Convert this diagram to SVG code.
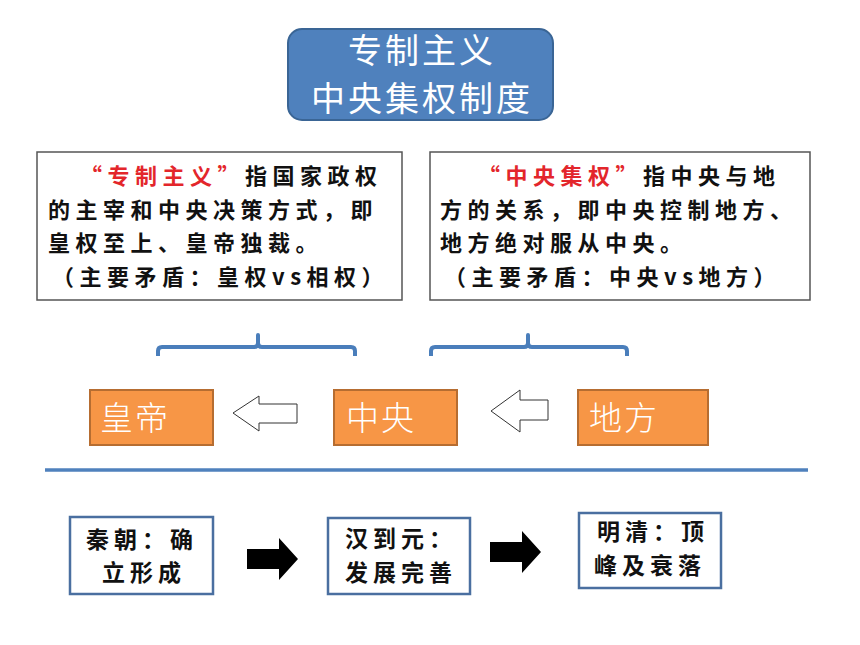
<svg xmlns="http://www.w3.org/2000/svg" width="860" height="645" viewBox="0 0 860 645">
<style>
.cjk{font-family:"Noto Sans CJK SC","Noto Sans",sans-serif}
.desc{font-size:22px;font-weight:700;letter-spacing:5.5px;fill:#111}
.red{fill:#e3262b}
.tbox{fill:#fff;stroke:#555;stroke-width:1.5}
.orange{fill:#f79646;stroke:#b66d31;stroke-width:2}
.otext{font-size:33px;fill:#fff;font-weight:300;letter-spacing:2px}
.bbox{fill:#fff;stroke:#4a6fa0;stroke-width:2.5}
.btext{font-size:23px;font-weight:700;letter-spacing:5px;fill:#111}
.brace{fill:none;stroke:#4a7ebb;stroke-width:4;stroke-linejoin:round}
.hollow{fill:#fff;stroke:#333;stroke-width:1}
.ttext{font-size:34px;fill:#fff;letter-spacing:3px}
</style>
<rect width="860" height="645" fill="#fff"/>
<g id="title">
<rect x="288" y="29" width="265" height="91" rx="14" fill="#4f81bd" stroke="#3a6595" stroke-width="2"/>
<text class="cjk ttext" x="422" y="63" text-anchor="middle">专制主义</text>
<text class="cjk ttext" x="422" y="111" text-anchor="middle">中央集权制度</text>
</g>
<g id="desc-left">
<rect class="tbox" x="37" y="152" width="365" height="148"/>
<text class="cjk desc" x="80" y="184"><tspan class="red">“专制主义”</tspan>指国家政权</text>
<text class="cjk desc" x="48" y="218">的主宰和中央决策方式，即</text>
<text class="cjk desc" x="48" y="251">皇权至上、皇帝独裁。</text>
<text class="cjk desc" x="52" y="285">（主要矛盾：皇权vs相权）</text>
</g>
<g id="desc-right">
<rect class="tbox" x="430" y="152" width="380" height="148"/>
<text class="cjk desc" x="478" y="184"><tspan class="red">“中央集权”</tspan>指中央与地</text>
<text class="cjk desc" x="440" y="218">方的关系，即中央控制地方、</text>
<text class="cjk desc" x="440" y="251">地方绝对服从中央。</text>
<text class="cjk desc" x="444" y="285">（主要矛盾：中央vs地方）</text>
</g>
<g id="connectors">
<path class="brace" d="M158,356 V351 Q158,347 162,347 H254 Q258,347 258,343 V335 V343 Q258,347 262,347 H351 Q355,347 355,351 V356"/>
<path class="brace" d="M431,356 V351 Q431,347 435,347 H524 Q528,347 528,343 V335 V343 Q528,347 532,347 H623 Q627,347 627,351 V356"/>
<path class="hollow" d="M233,413 L259,396 V404 H297 V423 H259 V431 Z"/>
<path class="hollow" d="M491,411 L520,390 V400 H548 V420 H520 V432 Z"/>
<line x1="45" y1="470" x2="808" y2="470" stroke="#4f81bd" stroke-width="3.5"/>
<path d="M247,549 H279 V538 L298,559 L279,580 V569 H247 Z" fill="#000"/>
<path d="M490,542 H522 V531 L541,552 L522,573 V562 H490 Z" fill="#000"/>
</g>
<g id="huangdi">
<rect class="orange" x="90" y="390" width="123" height="55"/>
<text class="cjk otext" x="100" y="430">皇帝</text>
</g>
<g id="zhongyang">
<rect class="orange" x="334" y="390" width="123" height="55"/>
<text class="cjk otext" x="346" y="430">中央</text>
</g>
<g id="difang">
<rect class="orange" x="578" y="390" width="130" height="55"/>
<text class="cjk otext" x="589" y="430">地方</text>
</g>
<g id="qin">
<rect class="bbox" x="70" y="517" width="143" height="77"/>
<text class="cjk btext" x="86" y="548">秦朝：确</text>
<text class="cjk btext" x="102" y="581">立形成</text>
</g>
<g id="han-yuan">
<rect class="bbox" x="328" y="518" width="142" height="76"/>
<text class="cjk btext" x="345" y="547">汉到元：</text>
<text class="cjk btext" x="345" y="581">发展完善</text>
</g>
<g id="ming-qing">
<rect class="bbox" x="579" y="513" width="142" height="75"/>
<text class="cjk btext" x="597" y="540">明清：顶</text>
<text class="cjk btext" x="594" y="574">峰及衰落</text>
</g>
</svg>
